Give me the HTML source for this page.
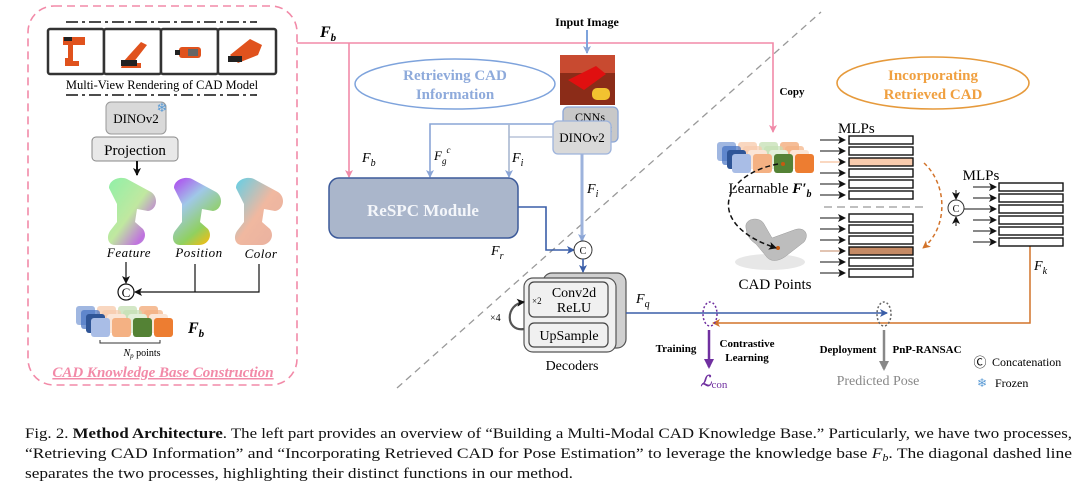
<!DOCTYPE html>
<html><head><meta charset="utf-8"><style>
html,body{margin:0;padding:0;background:#fff;}
svg{display:block;}
text{font-family:"Liberation Serif",serif;}
</style></head><body>
<svg width="1080" height="491" viewBox="0 0 1080 491" xmlns="http://www.w3.org/2000/svg">
<defs>
<marker id="ak" markerWidth="8" markerHeight="8" refX="7" refY="4" orient="auto" markerUnits="userSpaceOnUse"><path d="M0,0 L8,4 L0,8 L2,4 Z" fill="#111"/></marker>
<marker id="ab" markerWidth="8" markerHeight="8" refX="7" refY="4" orient="auto" markerUnits="userSpaceOnUse"><path d="M0,0 L8,4 L0,8 L2,4 Z" fill="#3a5ea8"/></marker>
<marker id="alb" markerWidth="8" markerHeight="8" refX="7" refY="4" orient="auto" markerUnits="userSpaceOnUse"><path d="M0,0 L8,4 L0,8 L2,4 Z" fill="#8aa5d6"/></marker>
<marker id="ap" markerWidth="8" markerHeight="8" refX="7" refY="4" orient="auto" markerUnits="userSpaceOnUse"><path d="M0,0 L8,4 L0,8 L2,4 Z" fill="#f08aa8"/></marker>
<marker id="ao" markerWidth="8" markerHeight="8" refX="7" refY="4" orient="auto" markerUnits="userSpaceOnUse"><path d="M0,0 L8,4 L0,8 L2,4 Z" fill="#d2732a"/></marker>
<marker id="apu" markerWidth="10" markerHeight="10" refX="8" refY="5" orient="auto" markerUnits="userSpaceOnUse"><path d="M0,0 L10,5 L0,10 Z" fill="#7030a0"/></marker>
<marker id="ag" markerWidth="10" markerHeight="10" refX="8" refY="5" orient="auto" markerUnits="userSpaceOnUse"><path d="M0,0 L10,5 L0,10 Z" fill="#888"/></marker>
<path id="drill" d="M4,12 C4,3 16,0 22,3 L46,16 C54,21 52,34 43,35 L32,33 L30,46 L38,53 C43,60 38,69 29,69 L10,69 C3,69 1,61 5,55 L12,46 L12,28 Z"/>
<linearGradient id="gf" x1="0" y1="0" x2="1" y2="1"><stop offset="0" stop-color="#8ff0a8"/><stop offset="0.5" stop-color="#c0e8a0"/><stop offset="0.8" stop-color="#c070e0"/><stop offset="1" stop-color="#a0e0c0"/></linearGradient>
<linearGradient id="gp" x1="0" y1="0" x2="0.6" y2="1"><stop offset="0" stop-color="#b040f0"/><stop offset="0.4" stop-color="#a0c8e8"/><stop offset="0.8" stop-color="#90d060"/><stop offset="1" stop-color="#e0c020"/></linearGradient>
<linearGradient id="gc" x1="0" y1="0" x2="1" y2="1"><stop offset="0" stop-color="#60d0e8"/><stop offset="0.5" stop-color="#f0b8a0"/><stop offset="1" stop-color="#e8b0a0"/></linearGradient>
</defs>

<line x1="397" y1="388" x2="821" y2="12" stroke="#999" stroke-width="1.3" stroke-dasharray="7,5"/>

<rect x="28" y="6" width="269" height="379" rx="26" fill="none" stroke="#f28aa8" stroke-width="1.6" stroke-dasharray="8,5"/>
<line x1="66" y1="22" x2="257" y2="22" stroke="#111" stroke-width="1.6" stroke-dasharray="12,4,3,4"/>
<line x1="66" y1="95" x2="257" y2="95" stroke="#111" stroke-width="1.6" stroke-dasharray="12,4,3,4"/>
<g stroke="#333" stroke-width="2.5" fill="#fff">
<rect x="48" y="29" width="56" height="45" rx="2"/><rect x="104" y="29" width="57" height="45" rx="2"/><rect x="161" y="29" width="57" height="45" rx="2"/><rect x="218" y="29" width="58" height="45" rx="2"/>
</g>
<g fill="#e0521d">
<path d="M63,37 h22 v8 h-12 v16 h6 v5 h-14 v-8 h3 v-13 h-5 z"/>
<path d="M123,62 l18,-20 l6,3 l-14,18 h8 v5 h-20 z"/>
<rect x="179" y="47" width="22" height="11" rx="3"/>
<path d="M230,55 l20,-16 l12,6 l-4,10 l-20,8 z"/>
</g>
<g fill="#222"><rect x="64" y="37" width="8" height="4"/><rect x="121" y="60" width="16" height="6"/><rect x="175" y="50" width="5" height="5"/><rect x="188" y="49" width="10" height="7" fill="#666"/><rect x="228" y="56" width="14" height="6"/></g>
<text x="162" y="89" font-size="12.5" text-anchor="middle">Multi-View Rendering of CAD Model</text>

<rect x="106" y="102" width="60" height="32" rx="5" fill="#d9d9d9" stroke="#999"/>
<text x="136" y="123" font-size="13" text-anchor="middle">DINOv2</text>
<text x="162" y="112" font-size="13" fill="#5b9bd5" text-anchor="middle">❄</text>
<rect x="92" y="137" width="86" height="24" rx="4" fill="#e8e8e8" stroke="#888"/>
<text x="135" y="155" font-size="15" text-anchor="middle">Projection</text>
<line x1="137" y1="161" x2="137" y2="175" stroke="#111" stroke-width="2" marker-end="url(#ak)"/>

<use href="#drill" transform="translate(105,176)" fill="url(#gf)"/>
<use href="#drill" transform="translate(170,176)" fill="url(#gp)"/>
<use href="#drill" transform="translate(232,176)" fill="url(#gc)"/>
<text x="129" y="257" font-size="13" font-style="italic" text-anchor="middle" letter-spacing="0.5">Feature</text>
<text x="199" y="257" font-size="13" font-style="italic" text-anchor="middle" letter-spacing="0.5">Position</text>
<text x="261" y="258" font-size="13" font-style="italic" text-anchor="middle" letter-spacing="0.5">Color</text>

<line x1="126" y1="262" x2="126" y2="283" stroke="#111" stroke-width="1.2" marker-end="url(#ak)"/>
<polyline points="259,264 259,292 135,292" fill="none" stroke="#111" stroke-width="1.2" marker-end="url(#ak)"/>
<line x1="195" y1="264" x2="195" y2="292" stroke="#111" stroke-width="1.2"/>
<circle cx="126" cy="292" r="8" fill="#fff" stroke="#111" stroke-width="1.2"/>
<text x="126" y="297" font-size="13" text-anchor="middle">C</text>

<g id="cubes">
<g opacity="0.5"><rect x="76" y="306" width="19" height="19" rx="3" fill="#4472c4"/><rect x="97" y="306" width="19" height="19" rx="3" fill="#f4b183"/><rect x="118" y="306" width="19" height="19" rx="3" fill="#a9d18e"/><rect x="139" y="306" width="19" height="19" rx="3" fill="#ed7d31"/></g>
<g opacity="0.7"><rect x="81" y="310" width="19" height="19" rx="3" fill="#4472c4"/><rect x="102" y="310" width="19" height="19" rx="3" fill="#f8cbad"/><rect x="123" y="310" width="19" height="19" rx="3" fill="#c5e0b4"/><rect x="144" y="310" width="19" height="19" rx="3" fill="#f4b183"/></g>
<g><rect x="86" y="314" width="19" height="19" rx="3" fill="#2f5597"/><rect x="107" y="314" width="19" height="19" rx="3" fill="#fbe5d6"/><rect x="128" y="314" width="19" height="19" rx="3" fill="#e2f0d9"/><rect x="149" y="314" width="19" height="19" rx="3" fill="#fbe5d6"/></g>
<g><rect x="91" y="318" width="19" height="19" rx="3" fill="#a9bde6"/><rect x="112" y="318" width="19" height="19" rx="3" fill="#f4b183"/><rect x="133" y="318" width="19" height="19" rx="3" fill="#548235"/><rect x="154" y="318" width="19" height="19" rx="3" fill="#ed7d31"/></g>
</g>
<text x="188" y="333" font-size="16" font-weight="bold" font-style="italic">F<tspan font-size="11" dy="4">b</tspan></text>
<path d="M100,340 v3 h60 v-3" fill="none" stroke="#333" stroke-width="1"/>
<text x="142" y="356" font-size="10" text-anchor="middle"><tspan font-style="italic">N</tspan><tspan font-size="7" font-style="italic" dy="2">p</tspan><tspan dy="-2"> points</tspan></text>
<text x="163" y="377" font-size="15" font-style="italic" font-weight="bold" fill="#f28aa8" text-anchor="middle" text-decoration="underline">CAD Knowledge Base Construction</text>

<polyline points="297,43 773,43 773,132" fill="none" stroke="#f28aa8" stroke-width="1.6" marker-end="url(#ap)"/>
<line x1="349" y1="43" x2="349" y2="177" stroke="#f28aa8" stroke-width="1.6" marker-end="url(#ap)"/>
<text x="320" y="37" font-size="16" font-weight="bold" font-style="italic">F<tspan font-size="11" dy="4">b</tspan></text>
<text x="792" y="95" font-size="11" font-weight="bold" text-anchor="middle">Copy</text>

<ellipse cx="455" cy="84" rx="100" ry="25" fill="none" stroke="#7ea3dc" stroke-width="1.5"/>
<text x="455" y="80" font-size="15" font-weight="bold" fill="#8eaadb" text-anchor="middle">Retrieving CAD</text>
<text x="455" y="99" font-size="15" font-weight="bold" fill="#8eaadb" text-anchor="middle">Information</text>

<text x="587" y="26" font-size="12" font-weight="bold" text-anchor="middle">Input Image</text>
<line x1="587" y1="30" x2="587" y2="53" stroke="#7ea3dc" stroke-width="2" marker-end="url(#alb)"/>
<rect x="560" y="55" width="55" height="50" fill="#8b2c18"/>
<rect x="560" y="55" width="55" height="18" fill="#c84a30"/>
<path d="M568,80 l28,-14 l10,8 l-22,16 z" fill="#e01010"/>
<rect x="592" y="88" width="18" height="12" rx="5" fill="#f2c230"/>
<rect x="563" y="107" width="55" height="35" rx="5" fill="#c8c8c8" stroke="#8aa5d6" stroke-width="1.3"/>
<text x="590" y="121" font-size="12" text-anchor="middle">CNNs</text>
<text x="608" y="134" font-size="12" fill="#5b9bd5" text-anchor="middle">❄</text>
<rect x="553" y="121" width="58" height="33" rx="5" fill="#d9d9d9" stroke="#9db3dc" stroke-width="1.3"/>
<text x="582" y="142" font-size="13" text-anchor="middle">DINOv2</text>

<polyline points="553,124 430,124 430,177" fill="none" stroke="#8aa5d6" stroke-width="1.6" marker-end="url(#alb)"/>
<polyline points="553,137 509,137" fill="none" stroke="#b8c4d8" stroke-width="1.6"/>
<line x1="509" y1="124" x2="509" y2="177" stroke="#a8b8d0" stroke-width="1.6" marker-end="url(#alb)"/>
<text x="362" y="162" font-size="14" font-style="italic">F<tspan font-size="10" dy="4">b</tspan></text>
<text x="434" y="160" font-size="13" font-style="italic">F<tspan font-size="9" dy="4">g</tspan><tspan font-size="9" dy="-11">c</tspan></text>
<text x="512" y="162" font-size="14" font-style="italic">F<tspan font-size="10" dy="4">i</tspan></text>

<rect x="329" y="178" width="189" height="60" rx="10" fill="#aab6cb" stroke="#3c5a9a" stroke-width="1.5"/>
<text x="423" y="216" font-size="17" font-weight="bold" fill="#f4f6fa" text-anchor="middle">ReSPC Module</text>
<text x="491" y="255" font-size="14" font-style="italic">F<tspan font-size="10" dy="4">r</tspan></text>
<polyline points="518,207 546,207 546,250 574,250" fill="none" stroke="#3a5ea8" stroke-width="1.6" marker-end="url(#ab)"/>
<line x1="582" y1="154" x2="582" y2="241" stroke="#9db3dc" stroke-width="3" marker-end="url(#alb)"/>
<text x="587" y="193" font-size="14" font-style="italic">F<tspan font-size="10" dy="4">i</tspan></text>
<circle cx="583" cy="250" r="9" fill="#fff" stroke="#333" stroke-width="1"/>
<text x="583" y="254" font-size="10" text-anchor="middle">C</text>
<line x1="583" y1="259" x2="583" y2="272" stroke="#3a5ea8" stroke-width="1.6" marker-end="url(#ab)"/>

<rect x="543" y="273" width="83" height="75" rx="9" fill="#d0d0d0" stroke="#555" stroke-width="1.2"/>
<rect x="524" y="278" width="92" height="74" rx="9" fill="#f0f0f0" stroke="#555" stroke-width="1.2"/>
<rect x="529" y="282" width="79" height="35" rx="5" fill="#f0f0f0" stroke="#444" stroke-width="1.2"/>
<text x="574" y="297" font-size="14" text-anchor="middle">Conv2d</text>
<text x="574" y="312" font-size="14" text-anchor="middle">ReLU</text>
<text x="532" y="304" font-size="9">×2</text>
<rect x="529" y="323" width="79" height="24" rx="5" fill="#f0f0f0" stroke="#444" stroke-width="1.2"/>
<text x="569" y="340" font-size="14" text-anchor="middle">UpSample</text>
<text x="572" y="370" font-size="14" text-anchor="middle">Decoders</text>
<text x="490" y="321" font-size="10">×4</text>
<path d="M524,329 C505,332 505,304 524,302" fill="none" stroke="#555" stroke-width="2.2" marker-end="url(#ak)"/>

<line x1="626" y1="313" x2="887" y2="313" stroke="#3a5ea8" stroke-width="1.5" marker-end="url(#ab)"/>
<text x="636" y="303" font-size="14" font-style="italic">F<tspan font-size="10" dy="4">q</tspan></text>
<polyline points="1030,242 1030,323 713,323" fill="none" stroke="#d2732a" stroke-width="1.5" marker-end="url(#ao)"/>
<text x="1034" y="270" font-size="14" font-style="italic">F<tspan font-size="10" dy="4">k</tspan></text>
<ellipse cx="710" cy="314" rx="7" ry="12" fill="none" stroke="#7030a0" stroke-width="1.5" stroke-dasharray="2,2"/>
<ellipse cx="884" cy="314" rx="7" ry="12" fill="none" stroke="#666" stroke-width="1.5" stroke-dasharray="2,2"/>
<line x1="709" y1="330" x2="709" y2="367" stroke="#7030a0" stroke-width="2.5" marker-end="url(#apu)"/>
<line x1="884" y1="330" x2="884" y2="369" stroke="#888" stroke-width="2.5" marker-end="url(#ag)"/>
<text x="676" y="352" font-size="11" font-weight="bold" text-anchor="middle">Training</text>
<text x="747" y="347" font-size="11" font-weight="bold" text-anchor="middle">Contrastive</text>
<text x="747" y="361" font-size="11" font-weight="bold" text-anchor="middle">Learning</text>
<text x="714" y="386" font-size="15" fill="#7030a0" text-anchor="middle"><tspan font-style="italic" font-weight="bold">ℒ</tspan><tspan font-size="11" dy="2">con</tspan></text>
<text x="848" y="353" font-size="11" font-weight="bold" text-anchor="middle">Deployment</text>
<text x="927" y="353" font-size="11" font-weight="bold" text-anchor="middle">PnP-RANSAC</text>
<text x="878" y="385" font-size="14" fill="#888" text-anchor="middle">Predicted Pose</text>
<text x="980" y="367" font-size="13" text-anchor="middle">Ⓒ</text>
<text x="992" y="366" font-size="12">Concatenation</text>
<text x="982" y="387" font-size="12" fill="#5b9bd5" text-anchor="middle">❄</text>
<text x="995" y="387" font-size="12">Frozen</text>

<ellipse cx="933" cy="83" rx="96" ry="26" fill="none" stroke="#e69a3c" stroke-width="1.6"/>
<text x="933" y="80" font-size="15" font-weight="bold" fill="#f0a040" text-anchor="middle">Incorporating</text>
<text x="933" y="99" font-size="15" font-weight="bold" fill="#f0a040" text-anchor="middle">Retrieved CAD</text>

<g transform="translate(641,-164)"><use href="#cubes"/></g>
<circle cx="783" cy="164" r="2" fill="#c55a11"/>
<text x="770" y="193" font-size="15" text-anchor="middle">Learnable <tspan font-weight="bold" font-style="italic">F′</tspan><tspan font-weight="bold" font-style="italic" font-size="10" dy="4">b</tspan></text>
<ellipse cx="770" cy="262" rx="35" ry="8" fill="#ddd" opacity="0.7"/>
<path d="M746,228 C744,218 760,216 764,224 L772,238 L794,230 C804,226 810,234 804,242 L786,256 C778,262 770,262 766,256 L756,244 C750,240 747,236 746,228 Z" fill="#bdbdbd" stroke="#999" stroke-width="0.5"/>
<circle cx="778" cy="248" r="2" fill="#c55a11"/>
<text x="775" y="289" font-size="15" text-anchor="middle">CAD Points</text>
<path d="M778,164 C720,175 705,225 776,248" fill="none" stroke="#111" stroke-width="1.5" stroke-dasharray="5,3" marker-end="url(#ak)"/>

<text x="838" y="133" font-size="15">MLPs</text>
<g stroke="#111" stroke-width="1.4" fill="#fff">
<rect x="849" y="136" width="64" height="8"/><rect x="849" y="147" width="64" height="8"/><rect x="849" y="158" width="64" height="8" fill="#f8cbad"/><rect x="849" y="169" width="64" height="8"/><rect x="849" y="180" width="64" height="8"/><rect x="849" y="191" width="64" height="8"/>
<rect x="849" y="214" width="64" height="8"/><rect x="849" y="225" width="64" height="8"/><rect x="849" y="236" width="64" height="8"/><rect x="849" y="247" width="64" height="8" fill="#c58a65"/><rect x="849" y="258" width="64" height="8"/><rect x="849" y="269" width="64" height="8"/>
</g>
<g stroke="#111" stroke-width="1" marker-end="url(#ak)">
<line x1="820" y1="140" x2="845" y2="140"/><line x1="820" y1="151" x2="845" y2="151"/><line x1="820" y1="162" x2="845" y2="162" stroke="#f4b183"/><line x1="820" y1="173" x2="845" y2="173"/><line x1="820" y1="184" x2="845" y2="184"/><line x1="820" y1="195" x2="845" y2="195"/>
<line x1="820" y1="218" x2="845" y2="218"/><line x1="820" y1="229" x2="845" y2="229"/><line x1="820" y1="240" x2="845" y2="240"/><line x1="820" y1="251" x2="845" y2="251" stroke="#c58a65"/><line x1="820" y1="262" x2="845" y2="262"/><line x1="820" y1="273" x2="845" y2="273"/>
</g>
<line x1="824" y1="207" x2="928" y2="207" stroke="#999" stroke-width="1.3" stroke-dasharray="8,5"/>
<path d="M924,163 C948,185 948,228 923,248" fill="none" stroke="#d2732a" stroke-width="1.5" stroke-dasharray="4,3" marker-end="url(#ao)"/>
<circle cx="956" cy="208" r="8" fill="#fff" stroke="#333" stroke-width="1"/>
<text x="956" y="212" font-size="10" text-anchor="middle">C</text>
<line x1="956" y1="190" x2="956" y2="199" stroke="#111" stroke-width="1" marker-end="url(#ak)"/>
<line x1="956" y1="226" x2="956" y2="217" stroke="#111" stroke-width="1" marker-end="url(#ak)"/>
<text x="981" y="180" font-size="15" text-anchor="middle">MLPs</text>
<g stroke="#111" stroke-width="1.4" fill="#fff">
<rect x="999" y="183" width="64" height="8"/><rect x="999" y="194" width="64" height="8"/><rect x="999" y="205" width="64" height="8"/><rect x="999" y="216" width="64" height="8"/><rect x="999" y="227" width="64" height="8"/><rect x="999" y="238" width="64" height="8"/>
</g>
<g stroke="#111" stroke-width="1" marker-end="url(#ak)">
<line x1="973" y1="187" x2="996" y2="187"/><line x1="973" y1="198" x2="996" y2="198"/><line x1="964" y1="209" x2="996" y2="209"/><line x1="973" y1="220" x2="996" y2="220"/><line x1="973" y1="231" x2="996" y2="231"/><line x1="973" y1="242" x2="996" y2="242"/>
</g>

<g font-size="14.5" fill="#111">
<text x="25" y="438" textLength="1047" lengthAdjust="spacingAndGlyphs">Fig. 2.   <tspan font-weight="bold">Method Architecture</tspan>. The left part provides an overview of “Building a Multi-Modal CAD Knowledge Base.” Particularly, we have two processes,</text>
<text x="25" y="458" textLength="1047" lengthAdjust="spacingAndGlyphs">“Retrieving CAD Information” and “Incorporating Retrieved CAD for Pose Estimation” to leverage the knowledge base <tspan font-style="italic">F<tspan font-size="10" dy="3">b</tspan></tspan><tspan dy="-3">. The diagonal dashed line</tspan></text>
<text x="25" y="478" textLength="548" lengthAdjust="spacingAndGlyphs">separates the two processes, highlighting their distinct functions in our method.</text>
</g>
</svg>
</body></html>
